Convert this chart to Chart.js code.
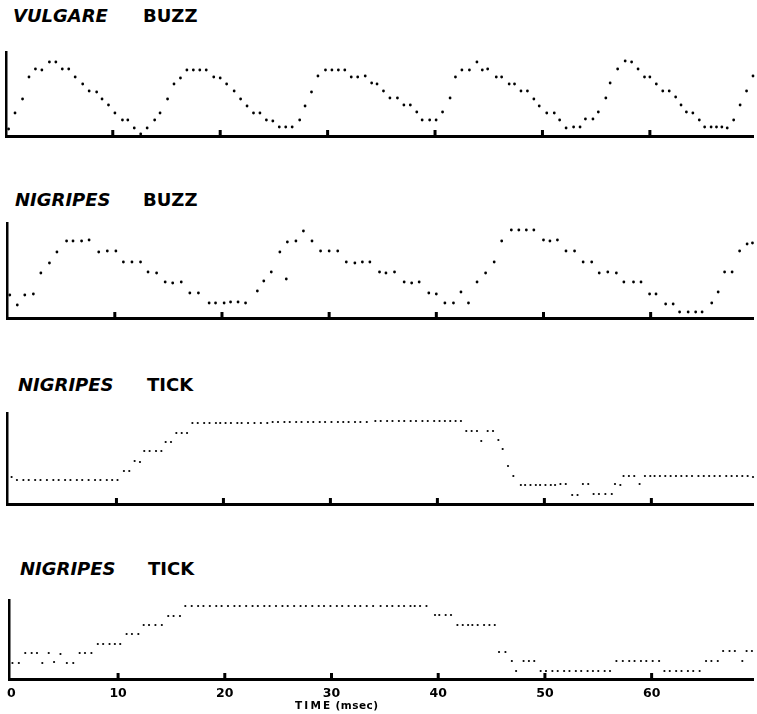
<!DOCTYPE html>
<html lang="en">
<head>
    <meta charset="UTF-8">
    <title>Vulgare / Nigripes sound traces</title>
    <script src="https://cdn.jsdelivr.net/npm/chart.js"></script>
    <style>
        body { margin: 0; background: #fff; }
        #page { position: relative; width: 757px; height: 714px; overflow: hidden; }
        canvas { position: absolute; left: 0; }
        .title { position: absolute; left: 0; height: 18px; width: 300px;
                 font: bold 18px/18px "DejaVu Sans", sans-serif; color: #000; }
        .title span { position: absolute; top: 0; white-space: nowrap; }
        .title .sp { font-style: oblique; }
        #xlabel { position: absolute; left: 295px; top: 700px; white-space: nowrap;
                  font: bold 10.5px/11px "DejaVu Sans", sans-serif; color: #000; }
        #xlabel .w { letter-spacing: 2.2px; margin-right: 3px; }
        #xlabel .u { letter-spacing: 0.5px; }
    </style>
</head>
<body>
<div id="page">
    <div class="title" style="top:7px"><span class="sp" style="left:13px">VULGARE</span><span style="left:143px">BUZZ</span></div>
    <canvas id="c1" width="757" height="92" style="top:48px"></canvas>

    <div class="title" style="top:191px"><span class="sp" style="left:15px">NIGRIPES</span><span style="left:143px">BUZZ</span></div>
    <canvas id="c2" width="757" height="103" style="top:219px"></canvas>

    <div class="title" style="top:376px"><span class="sp" style="left:18px">NIGRIPES</span><span style="left:147px">TICK</span></div>
    <canvas id="c3" width="757" height="99" style="top:409px"></canvas>

    <div class="title" style="top:560px"><span class="sp" style="left:20px">NIGRIPES</span><span style="left:148px">TICK</span></div>
    <canvas id="c4" width="757" height="113" style="top:596px"></canvas>

    <div id="xlabel"><span class="w">TIME</span><span class="u">(msec)</span></div>
</div>

<script>
    // time axis ticks (msec)
    const timeTicks = [0, 10, 20, 30, 40, 50, 60];

    // [time msec, amplitude]
    const vulgareBuzz = [
        [0.3,7],[0.9,23],[1.6,37],[2.2,59],[2.8,67],[3.4,66],[4.1,74],[4.7,74],[5.3,67],[5.9,67],
        [6.5,59],[7.2,52],[7.8,45],[8.5,44],[9.0,37],[9.6,31],[10.2,23],[10.9,16],[11.4,16],[12.0,8],
        [12.6,2],[13.2,8],[13.9,16],[14.4,23],[15.1,37],[15.7,52],[16.3,58],[16.9,66],[17.5,66],[18.1,66],
        [18.7,66],[19.4,59],[20.0,58],[20.6,52],[21.3,45],[21.9,37],[22.5,30],[23.1,23],[23.7,23],[24.3,16],
        [24.9,15],[25.5,9],[26.1,9],[26.7,9],[27.4,16],[27.9,30],[28.5,44],[29.1,60],[29.8,66],[30.4,66],
        [31.0,66],[31.6,66],[32.2,59],[32.8,59],[33.5,60],[34.1,53],[34.6,52],[35.2,45],[35.8,38],[36.5,38],
        [37.1,31],[37.7,31],[38.3,24],[38.8,16],[39.5,16],[40.1,16],[40.7,24],[41.4,38],[41.9,59],[42.5,66],
        [43.2,66],[43.9,74],[44.4,66],[44.9,67],[45.7,59],[46.2,59],[46.9,52],[47.4,52],[48.0,45],[48.6,45],
        [49.2,37],[49.7,30],[50.4,23],[51.1,23],[51.6,16],[52.2,8],[52.9,9],[53.5,9],[54.0,17],[54.7,17],
        [55.2,24],[55.9,38],[56.3,53],[57.0,67],[57.7,75],[58.3,74],[58.9,67],[59.5,59],[60.0,59],[60.6,52],
        [61.2,45],[61.8,45],[62.4,39],[62.9,31],[63.4,24],[64.0,23],[64.6,16],[65.1,9],[65.7,9],[66.2,9],
        [66.7,9],[67.2,8],[67.8,16],[68.4,31],[69.0,45],[69.6,60]
    ];

    const nigripesBuzz = [
        [0.2,23],[0.9,13],[1.6,23],[2.4,24],[3.1,45],[3.9,55],[4.6,66],[5.5,77],[6.1,77],[6.9,77],
        [7.6,78],[8.5,66],[9.3,67],[10.1,67],[10.8,56],[11.6,56],[12.4,56],[13.1,46],[13.9,45],[14.7,36],
        [15.4,35],[16.2,36],[17.0,25],[17.8,25],[18.8,15],[19.4,15],[20.2,15],[20.8,16],[21.5,16],[22.2,15],
        [23.3,27],[23.9,37],[24.6,46],[25.4,66],[26.0,39],[26.1,76],[26.9,77],[27.6,87],[28.4,77],[29.2,67],
        [30.0,67],[30.8,67],[31.6,56],[32.4,55],[33.1,56],[33.8,56],[34.7,46],[35.3,45],[36.1,46],[37.0,36],
        [37.7,35],[38.4,36],[39.3,25],[40.0,24],[40.8,15],[41.6,15],[42.3,26],[43.0,15],[43.8,36],[44.6,45],
        [45.4,56],[46.1,77],[47.0,88],[47.7,88],[48.4,88],[49.1,88],[50.0,78],[50.6,77],[51.3,78],[52.1,67],
        [52.9,67],[53.7,56],[54.5,56],[55.2,45],[56.0,46],[56.8,45],[57.5,36],[58.4,36],[59.1,36],[59.9,24],
        [60.5,24],[61.4,14],[62.1,14],[62.7,6],[63.5,6],[64.2,6],[64.8,6],[65.7,15],[66.3,26],[66.9,46],
        [67.6,46],[68.3,67],[69.0,74],[69.5,75]
    ];

    const nigripesTick1 = [
        [0.2,27],[0.7,24],[1.3,24],[1.8,24],[2.4,24],[2.9,24],[3.5,24],[4.1,24],[4.6,24],[5.2,24],
        [5.7,24],[6.3,24],[6.8,24],[7.4,24],[8.0,24],[8.5,24],[9.1,24],[9.6,24],[10.1,24],
        [10.7,33],[11.2,33],[11.7,43],[12.2,42],[12.6,53],[13.1,53],[13.7,53],[14.2,53],[14.6,62],[15.1,62],
        [15.6,71],[16.1,71],[16.6,71],
        [17.1,81],[17.6,81],[18.2,81],[18.7,81],[19.3,81],[19.7,81],[20.2,81],[20.7,81],[21.3,81],[21.7,81],
        [22.3,81],[22.9,81],[23.5,81],[24.1,81],[24.6,82],[25.1,82],[25.7,82],[26.2,82],[26.8,82],[27.3,82],
        [27.9,82],[28.4,82],[29.0,82],[29.5,82],[30.1,82],[30.7,82],[31.2,82],[31.7,82],[32.3,82],[32.8,82],
        [33.4,82],[34.2,83],[34.7,83],[35.3,83],[35.8,83],[36.4,83],[36.9,83],[37.5,83],[38.0,83],[38.6,83],
        [39.1,83],[39.7,83],[40.2,83],[40.7,83],[41.2,83],[41.7,83],[42.2,83],
        [42.7,73],[43.2,73],[43.7,73],[44.1,63],[44.7,73],[45.2,73],[45.7,64],[46.1,55],[46.6,38],[47.1,28],
        [47.8,19],[48.2,19],[48.7,19],[49.2,19],[49.6,19],[50.1,19],[50.6,19],[51.0,19],[51.5,20],[52.0,20],
        [52.6,9],[53.1,9],[53.6,20],[54.1,20],[54.6,10],[55.1,10],[55.7,10],[56.3,10],[56.6,20],[57.1,19],
        [57.4,28],[57.9,28],[58.4,28],[58.9,20],
        [59.4,28],[59.9,28],[60.3,28],[60.8,28],[61.3,28],[61.8,28],[62.3,28],[62.8,28],[63.3,28],[63.8,28],
        [64.4,28],[64.9,28],[65.4,28],[65.9,28],[66.4,28],[67.0,28],[67.5,28],[68.0,28],[68.5,28],[69.0,28],
        [69.5,27]
    ];

    const nigripesTick2 = [
        [0.1,16],[0.7,16],[1.3,26],[1.9,26],[2.4,26],[2.9,16],[3.5,26],[4.0,17],[4.6,25],[5.2,16],
        [5.8,16],[6.4,26],[6.9,26],[7.5,26],[8.1,35],[8.6,35],[9.2,35],[9.7,35],[10.2,35],[10.8,45],
        [11.3,45],[11.9,45],[12.4,54],[12.9,54],[13.5,54],[14.1,54],[14.7,63],[15.2,63],[15.8,63],
        [16.3,73],[16.9,73],[17.5,73],[18.0,73],[18.6,73],[19.2,73],[19.7,73],[20.3,73],[20.9,73],[21.4,73],
        [22.0,73],[22.6,73],[23.1,73],[23.7,73],[24.2,73],[24.8,73],[25.4,73],[25.9,73],[26.5,73],[27.1,73],
        [27.6,73],[28.2,73],[28.8,73],[29.3,73],[29.9,73],[30.5,73],[31.0,73],[31.6,73],[32.2,73],[32.7,73],
        [33.3,73],[33.9,73],[34.6,73],[35.2,73],[35.7,73],[36.3,73],[36.8,73],[37.4,73],[37.8,73],[38.3,73],
        [38.9,73],
        [39.7,64],[40.1,64],[40.7,64],[41.2,64],
        [41.8,54],[42.3,54],[42.8,54],[43.2,54],[43.7,54],[44.3,54],[44.8,54],[45.3,54],
        [45.7,27],[46.3,27],[46.9,18],[47.3,8],[48.0,18],[48.5,18],[49.0,18],
        [49.6,8],[50.1,8],[50.7,8],[51.2,8],[51.8,8],[52.3,8],[52.9,8],[53.4,8],[54.0,8],[54.5,8],
        [55.0,8],[55.6,8],[56.1,8],
        [56.7,18],[57.3,18],[57.9,18],[58.4,18],[59.0,18],[59.5,18],[60.1,18],[60.7,18],
        [61.2,8],[61.7,8],[62.3,8],[62.8,8],[63.4,8],[63.9,8],[64.5,8],
        [65.1,18],[65.6,18],[66.2,18],[66.7,28],[67.3,28],[67.8,28],[68.5,18],[68.9,28],[69.4,28]
    ];

    // small upward tick marks on the time axis
    const tickMarks = {
        id: 'tickMarks',
        afterDraw(chart) {
            const { ctx, scales: { x, y } } = chart;
            ctx.save();
            ctx.strokeStyle = '#000';
            ctx.lineWidth = 3;
            timeTicks.forEach(v => {
                if (v <= 0) return;
                const px = x.getPixelForValue(v);
                ctx.beginPath();
                ctx.moveTo(px, y.bottom);
                ctx.lineTo(px, y.bottom - 6);
                ctx.stroke();
            });
            ctx.restore();
        }
    };

    Chart.defaults.font.family = '"DejaVu Sans", sans-serif';

    function drawTrace(id, points, opts) {
        const ctx = document.getElementById(id).getContext('2d');
        return new Chart(ctx, {
            type: 'scatter',
            data: {
                datasets: [{
                    data: points.map(p => ({ x: p[0], y: p[1] })),
                    backgroundColor: '#000',
                    borderWidth: 0,
                    pointRadius: opts.dot,
                    clip: false
                }]
            },
            options: {
                responsive: false,
                animation: false,
                events: [],
                layout: { padding: { left: opts.left, right: 0, top: 4, bottom: opts.labels ? 0 : 4 } },
                plugins: { legend: { display: false }, tooltip: { enabled: false } },
                scales: {
                    x: {
                        type: 'linear',
                        min: opts.xMin,
                        max: opts.xMax,
                        grid: { display: false, drawTicks: false },
                        border: { display: true, color: '#000', width: 3 },
                        afterBuildTicks: s => { s.ticks = timeTicks.map(v => ({ value: v })); },
                        afterFit: s => { s.height = opts.labels ? 30 : 0; },
                        ticks: {
                            display: opts.labels,
                            autoSkip: false,
                            maxRotation: 0,
                            padding: 7,
                            color: '#000',
                            font: { size: 12.5, weight: 'bold' },
                            callback: v => String(v)
                        }
                    },
                    y: {
                        min: 0,
                        max: opts.yMax,
                        grid: { display: false, drawTicks: false },
                        border: { display: true, color: '#000', width: 2.5 },
                        ticks: { display: false },
                        afterFit: s => { s.width = 0; }
                    }
                }
            },
            plugins: [tickMarks]
        });
    }

    drawTrace('c1', vulgareBuzz,   { left: 6, xMin: 0.06,  xMax: 69.6,  yMax: 84, dot: 1.4, labels: false });
    drawTrace('c2', nigripesBuzz,  { left: 7, xMin: -0.06, xMax: 69.55, yMax: 95, dot: 1.4, labels: false });
    drawTrace('c3', nigripesTick1, { left: 7, xMin: -0.23, xMax: 69.5,  yMax: 91, dot: 1.1, labels: false });
    drawTrace('c4', nigripesTick2, { left: 8, xMin: -0.21, xMax: 69.5,  yMax: 79, dot: 1.1, labels: true });
</script>
</body>
</html>
